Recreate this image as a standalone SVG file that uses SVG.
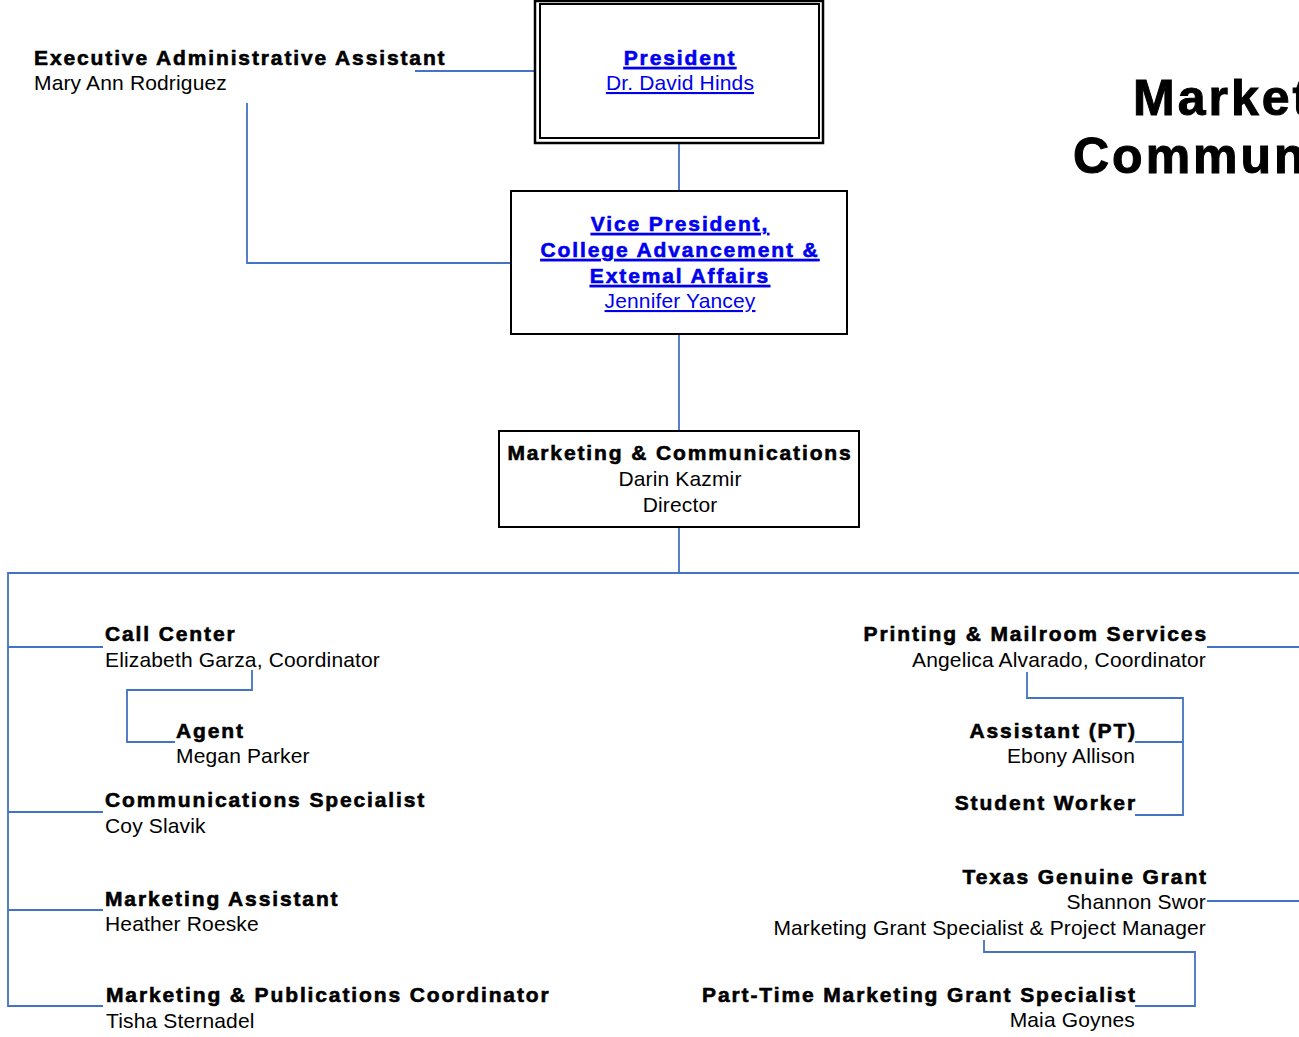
<svg xmlns="http://www.w3.org/2000/svg" width="1299" height="1037" viewBox="0 0 1299 1037">
<style>
.b{font-family:"Liberation Sans",Arial,sans-serif;font-weight:bold;font-size:21px;letter-spacing:1.88px;fill:#000;stroke:#000;stroke-width:0.6}
.r{font-family:"Liberation Sans",Arial,sans-serif;font-size:21px;letter-spacing:0.15px;fill:#000}
.lk{fill:#0000EE;text-decoration:underline}
.b.lk{stroke:#0000EE}
.m{text-anchor:middle}
.e{text-anchor:end}
.t{font-family:"Liberation Sans",Arial,sans-serif;font-weight:bold;font-size:50px;letter-spacing:3px;fill:#000;stroke:#000;stroke-width:1}
.box{fill:#fff;stroke:#000;stroke-width:2}
.c{fill:none;stroke:#4472C4;stroke-width:1.8}
</style>
<rect width="1299" height="1037" fill="#fff"/>
<g id="connectors">
<polyline class="c" points="415,71 535,71"/>
<polyline class="c" points="247,103 247,263 511,263"/>
<polyline class="c" points="679,143 679,191"/>
<polyline class="c" points="679,334 679,431"/>
<polyline class="c" points="679,527 679,573"/>
<polyline class="c" points="1299,573 8,573 8,1006 103,1006"/>
<polyline class="c" points="8,647 103,647"/>
<polyline class="c" points="252,670 252,690 127,690 127,742 175,742"/>
<polyline class="c" points="8,812 103,812"/>
<polyline class="c" points="8,910 103,910"/>
<polyline class="c" points="1207,647 1299,647"/>
<polyline class="c" points="1027,672 1027,698 1183,698 1183,815 1135,815"/>
<polyline class="c" points="1183,742 1135,742"/>
<polyline class="c" points="1207,901 1299,901"/>
<polyline class="c" points="984,940 984,952 1195,952 1195,1006 1135,1006"/>
</g>
<g id="title">
<text class="t" x="1133" y="115">Marketing &amp;</text>
<text class="t" x="1073" y="173">Communications</text>
</g>
<g id="exec-assistant">
<text class="b" x="34" y="65">Executive Administrative Assistant</text>
<text class="r" x="34" y="90">Mary Ann Rodriguez</text>
</g>
<g id="president">
<rect x="535" y="1" width="288" height="142" fill="#fff" stroke="#000" stroke-width="2.5"/>
<rect x="540" y="4" width="279" height="134" fill="none" stroke="#000" stroke-width="2"/>
<text class="b lk m" x="680" y="65">President</text>
<text class="r lk m" x="680" y="90">Dr. David Hinds</text>
</g>
<g id="vice-president">
<rect class="box" x="511" y="191" width="336" height="143"/>
<text class="b lk m" x="680" y="231">Vice President,</text>
<text class="b lk m" x="680" y="257">College Advancement &amp;</text>
<text class="b lk m" x="680" y="283">Extemal Affairs</text>
<text class="r lk m" x="680" y="308">Jennifer Yancey</text>
</g>
<g id="director">
<rect class="box" x="499" y="431" width="360" height="96"/>
<text class="b m" x="680" y="460">Marketing &amp; Communications</text>
<text class="r m" x="680" y="486">Darin Kazmir</text>
<text class="r m" x="680" y="512">Director</text>
</g>
<g id="call-center">
<text class="b" x="105" y="641">Call Center</text>
<text class="r" x="105" y="667">Elizabeth Garza, Coordinator</text>
</g>
<g id="agent">
<text class="b" x="176" y="738">Agent</text>
<text class="r" x="176" y="763">Megan Parker</text>
</g>
<g id="comms-specialist">
<text class="b" x="105" y="807">Communications Specialist</text>
<text class="r" x="105" y="833">Coy Slavik</text>
</g>
<g id="marketing-assistant">
<text class="b" x="105" y="906">Marketing Assistant</text>
<text class="r" x="105" y="931">Heather Roeske</text>
</g>
<g id="pub-coordinator">
<text class="b" x="106" y="1002">Marketing &amp; Publications Coordinator</text>
<text class="r" x="106" y="1028">Tisha Sternadel</text>
</g>
<g id="printing">
<text class="b e" x="1208" y="641">Printing &amp; Mailroom Services</text>
<text class="r e" x="1206" y="667">Angelica Alvarado, Coordinator</text>
</g>
<g id="assistant-pt">
<text class="b e" x="1137" y="738">Assistant (PT)</text>
<text class="r e" x="1135" y="763">Ebony Allison</text>
</g>
<g id="student-worker">
<text class="b e" x="1137" y="810">Student Worker</text>
</g>
<g id="texas-grant">
<text class="b e" x="1208" y="884">Texas Genuine Grant</text>
<text class="r e" x="1206" y="909">Shannon Swor</text>
<text class="r e" x="1206" y="935">Marketing Grant Specialist &amp; Project Manager</text>
</g>
<g id="pt-grant-specialist">
<text class="b e" x="1137" y="1002">Part-Time Marketing Grant Specialist</text>
<text class="r e" x="1135" y="1027">Maia Goynes</text>
</g>
</svg>
